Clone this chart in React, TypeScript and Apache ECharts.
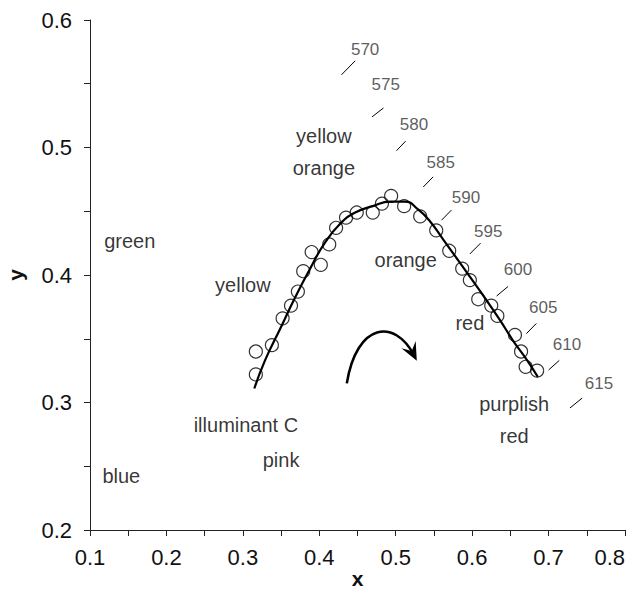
import React, { useEffect, useRef } from "react";
import * as echarts from "echarts";

// measured chromaticity points (circles)
const pointX = [0.317, 0.317, 0.338, 0.352, 0.363, 0.372, 0.379, 0.390, 0.402, 0.413, 0.422, 0.435, 0.449, 0.470, 0.482, 0.494, 0.511, 0.532, 0.553, 0.570, 0.587, 0.597, 0.608, 0.625, 0.633, 0.656, 0.664, 0.670, 0.685];
const pointY = [0.340, 0.322, 0.345, 0.366, 0.376, 0.387, 0.403, 0.418, 0.408, 0.424, 0.437, 0.445, 0.449, 0.449, 0.456, 0.462, 0.454, 0.446, 0.435, 0.419, 0.405, 0.396, 0.381, 0.376, 0.368, 0.353, 0.340, 0.328, 0.325];

// fitted curve
const curveX = [0.315, 0.329, 0.349, 0.368, 0.388, 0.407, 0.427, 0.447, 0.470, 0.493, 0.512, 0.530, 0.545, 0.562, 0.593, 0.619, 0.636, 0.653, 0.672, 0.686];
const curveY = [0.311, 0.333, 0.358, 0.382, 0.405, 0.425, 0.440, 0.449, 0.454, 0.4575, 0.4575, 0.451, 0.442, 0.428, 0.402, 0.380, 0.365, 0.349, 0.333, 0.320];

// dominant wavelength marks (nm)
const wavelengths = ["570", "575", "580", "585", "590", "595", "600", "605", "610", "615"];
const markStartX = [0.429, 0.469, 0.501, 0.536, 0.560, 0.597, 0.632, 0.671, 0.700, 0.728];
const markStartY = [0.557, 0.524, 0.4975, 0.469, 0.443, 0.4165, 0.3835, 0.354, 0.3255, 0.2957];
const markEndX = [0.447, 0.484, 0.513, 0.549, 0.573, 0.611, 0.647, 0.684, 0.714, 0.744];
const markEndY = [0.568, 0.531, 0.505, 0.477, 0.451, 0.425, 0.391, 0.362, 0.333, 0.3035];
const wlLabelX = [0.460, 0.487, 0.524, 0.559, 0.592, 0.621, 0.660, 0.693, 0.724, 0.766];
const wlLabelY = [0.577, 0.5496, 0.518, 0.488, 0.461, 0.434, 0.4045, 0.3747, 0.3456, 0.315];

// colour region names
const colorNames = ["yellow\norange", "green", "yellow", "orange", "red", "purplish\nred", "illuminant C", "blue", "pink"];
const colorX = [0.406, 0.152, 0.300, 0.513, 0.597, 0.655, 0.304, 0.141, 0.350];
const colorY = [0.4965, 0.4267, 0.392, 0.4118, 0.3624, 0.2863, 0.2824, 0.2424, 0.255];

// direction arrow (data coords): start, control1, control2, end
const arrowX = [0.436, 0.449, 0.499, 0.524];
const arrowY = [0.315, 0.363, 0.366, 0.337];

const FONT = "'Liberation Sans', Arial, sans-serif";

export default function App() {
  const ref = useRef<HTMLDivElement>(null);
  useEffect(() => {
    if (!ref.current) return;
    const chart = echarts.init(ref.current, null, { renderer: "svg" });
    const axisCommon = {
      type: "value" as const,
      interval: 0.1,
      axisLine: { show: true, lineStyle: { color: "#222", width: 1 } },
      axisTick: { show: true, inside: false, length: 6, lineStyle: { color: "#222" } },
      minorTick: { show: true, splitNumber: 2, length: 6, lineStyle: { color: "#222" } },
      splitLine: { show: false },
      axisLabel: { color: "#111", fontSize: 22, fontFamily: FONT, formatter: (v: number) => v.toFixed(1) },
      nameTextStyle: { color: "#111", fontSize: 21, fontWeight: "bold", fontFamily: FONT },
      nameMoveOverlap: false,
    };
    chart.setOption({
      animation: false,
      grid: { left: 90, right: 7, top: 20, bottom: 64, containLabel: false, outerBoundsMode: "none" },
      xAxis: { ...axisCommon, min: 0.1, max: 0.8, name: "x", nameLocation: "middle", nameGap: 38, axisLabel: { ...axisCommon.axisLabel, margin: 16, alignMaxLabel: "right" } },
      yAxis: { ...axisCommon, min: 0.2, max: 0.6, name: "y", nameLocation: "middle", nameGap: 64, nameRotate: 90, axisLabel: { ...axisCommon.axisLabel, margin: 18 } },
      series: [
        {
          type: "line",
          smooth: 0.5,
          showSymbol: false,
          data: curveX.map((x, i) => [x, curveY[i]]),
          lineStyle: { color: "#000", width: 2.2 },
          z: 2,
        },
        {
          type: "scatter",
          symbol: "circle",
          symbolSize: 13,
          data: pointX.map((x, i) => [x, pointY[i]]),
          itemStyle: { color: "rgba(0,0,0,0)", borderColor: "#000", borderWidth: 1.2 },
          z: 3,
        },
        {
          type: "lines",
          coordinateSystem: "cartesian2d",
          data: wavelengths.map((_, i) => ({ coords: [[markStartX[i], markStartY[i]], [markEndX[i], markEndY[i]]] })),
          lineStyle: { color: "#000", width: 1, opacity: 1 },
          symbol: "none",
        },
        {
          type: "scatter",
          symbolSize: 0,
          data: wavelengths.map((w, i) => ({ name: w, value: [wlLabelX[i], wlLabelY[i]] })),
          label: { show: true, position: "inside", formatter: "{b}", color: "#333", fontSize: 17, fontFamily: FONT },
        },
        {
          type: "scatter",
          symbolSize: 0,
          data: colorNames.map((n, i) => ({ name: n, value: [colorX[i], colorY[i]] })),
          label: { show: true, position: "inside", formatter: "{b}", color: "#000", fontSize: 20, fontFamily: FONT, lineHeight: 32, align: "center" },
        },
      ],
    });
    const p = arrowX.map((x, i) => chart.convertToPixel({ gridIndex: 0 }, [x, arrowY[i]]) as number[]);
    const tip = p[3];
    const dx = p[3][0] - p[2][0];
    const dy = p[3][1] - p[2][1];
    const len = Math.hypot(dx, dy) || 1;
    const ux = dx / len, uy = dy / len;
    const nx = -uy, ny = ux;
    const head = 18, half = 8, notch = 11;
    const tipP = [tip[0] + ux * 6, tip[1] + uy * 6];
    chart.setOption({
      graphic: [
        {
          type: "bezierCurve",
          shape: { x1: p[0][0], y1: p[0][1], cpx1: p[1][0], cpy1: p[1][1], cpx2: p[2][0], cpy2: p[2][1], x2: p[3][0], y2: p[3][1] },
          style: { stroke: "#000", lineWidth: 2.5, fill: null },
        },
        {
          type: "polygon",
          shape: {
            points: [
              tipP,
              [tipP[0] - ux * head + nx * half, tipP[1] - uy * head + ny * half],
              [tipP[0] - ux * notch, tipP[1] - uy * notch],
              [tipP[0] - ux * head - nx * half, tipP[1] - uy * head - ny * half],
            ],
          },
          style: { fill: "#000" },
        },
      ],
    });
    return () => chart.dispose();
  }, []);
  return <div ref={ref} style={{ width: 632, height: 594, position: "absolute", left: 0, top: 0, background: "#fff" }} />;
}
